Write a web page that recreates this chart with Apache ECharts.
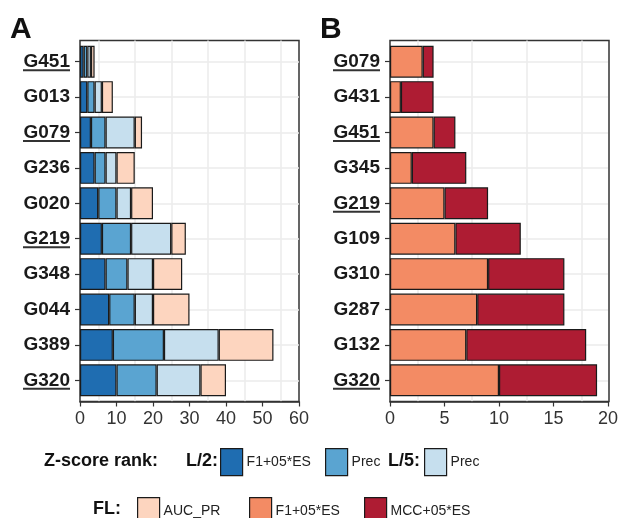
<!DOCTYPE html>
<html>
<head>
<meta charset="utf-8">
<script src="https://cdn.jsdelivr.net/npm/echarts@6/dist/echarts.min.js"></script>
<style>
html,body{margin:0;padding:0;background:#fff;}
#chart{width:621px;height:518px;}
</style>
</head>
<body>
<div id="chart"></div>
<script>
// ---------- data ----------
const categoriesA = ['G451','G013','G079','G236','G020','G219','G348','G044','G389','G320'];
const underlinedA = ['G451','G079','G219','G320'];
const l2F1 = [1,2,3,4,5,6,7,8,9,10];
const l2Prec = [1,2,4,3,5,8,6,7,14,11];
const l5Prec = [1,2,8,3,4,11,7,5,15,12];
const aucPR = [1,3,2,5,6,4,8,10,15,7];

const categoriesB = ['G079','G431','G451','G345','G219','G109','G310','G287','G132','G320'];
const underlinedB = ['G079','G451','G219','G320'];
const flF1 = [3,1,4,2,5,6,9,8,7,10];
const flMCC = [1,3,2,5,4,6,7,8,11,9];

const ticksA = {min: 0, max: 60, interval: 10};
const ticksB = {min: 0, max: 20, interval: 5};

// ---------- style ----------
const FONT = '"Liberation Sans", Arial, Helvetica, sans-serif';
const C = {
  l2F1: '#1f6db1', l2Prec: '#5aa4d1', l5Prec: '#c6dfee',
  auc: '#fdd5bf', flF1: '#f38b64', mcc: '#ae1c33'
};
const BORDER = '#1a1a1a';
const GRIDC = '#ebebeb';

const cv = document.createElement('canvas').getContext('2d');
cv.font = 'bold 19px ' + FONT;
const labW = Math.ceil(cv.measureText('G451').width);

function yLabel(under) {
  return {
    margin: 10,
    align: 'right',
    padding: [2, 0, 0, 0],
    formatter: v => under.includes(v) ? `{t|${v}}\n{u|}` : `{t|${v}}\n{n|}`,
    rich: {
      t: {fontSize: 19, fontWeight: 'bold', fontFamily: FONT, color: '#1a1a1a', lineHeight: 15},
      u: {width: labW, height: 2, lineHeight: 2, backgroundColor: '#333'},
      n: {width: labW, height: 2, lineHeight: 2}
    }
  };
}

const plotTop = 44, plotH = 354, frameTop = 40.5, frameH = 361;
const gA = {left: 80, width: 219}, gB = {left: 390, width: 219};

function barX(gridIndex, t) {
  return {
    type: 'value', gridIndex, min: t.min, max: t.max, interval: t.interval,
    offset: 3.5,
    axisLine: {show: true, lineStyle: {color: '#333', width: 1.5}},
    axisTick: {show: true, length: 5, lineStyle: {color: '#333', width: 1.2}},
    axisLabel: {fontSize: 18, fontFamily: FONT, color: '#333', margin: 9},
    splitLine: {show: false}
  };
}
function frameX(gridIndex, t) {
  return {
    type: 'value', gridIndex, min: t.min, max: t.max, interval: t.interval,
    axisLine: {show: false}, axisTick: {show: false}, axisLabel: {show: false},
    splitLine: {show: false},
    minorTick: {show: false, splitNumber: 2},
    minorSplitLine: {show: true, lineStyle: {color: GRIDC, width: 1.5}}
  };
}
function barY(gridIndex, cats, under) {
  return {
    type: 'category', gridIndex, data: cats, inverse: true,
    axisLine: {show: false},
    axisTick: {show: true, alignWithLabel: true, length: 5, lineStyle: {color: '#333', width: 1.2}},
    axisLabel: yLabel(under),
    splitLine: {show: true, alignWithLabel: true, lineStyle: {color: GRIDC, width: 1.5}}
  };
}
function frameY(gridIndex) {
  return {
    type: 'value', gridIndex, min: 0, max: 1,
    axisLine: {show: false}, axisTick: {show: false}, axisLabel: {show: false},
    splitLine: {show: false}
  };
}
function bar(name, data, color, xi, stack) {
  return {
    type: 'bar', name, data, stack, xAxisIndex: xi, yAxisIndex: xi,
    barCategoryGap: '10%',
    itemStyle: {color, borderColor: BORDER, borderWidth: 1.2},
    emphasis: {disabled: true}
  };
}
function legend(name, left, top) {
  return {
    data: [name], left, top, padding: 0, selectedMode: false,
    icon: 'rect', itemWidth: 22, itemHeight: 27,
    itemStyle: {borderColor: BORDER, borderWidth: 1.2},
    formatter: n => n.replace(/^(L\/2 |L\/5 |FL )/, ''),
    textStyle: {fontSize: 14, fontFamily: FONT, color: '#222', padding: [0, 0, 0, -1]}
  };
}
function title(text, left, cy, size) {
  return {type: 'text', left, top: cy - size / 2 - 1,
    style: {text, font: `bold ${size}px ${FONT}`, fill: '#111'}};
}

const option = {
  animation: false,
  grid: [
    {left: gA.left, width: gA.width, top: plotTop, height: plotH},
    {left: gB.left, width: gB.width, top: plotTop, height: plotH},
    {left: gA.left, width: gA.width, top: frameTop, height: frameH, show: true, borderColor: '#333', borderWidth: 1.5, backgroundColor: 'transparent', z: 0},
    {left: gB.left, width: gB.width, top: frameTop, height: frameH, show: true, borderColor: '#333', borderWidth: 1.5, backgroundColor: 'transparent', z: 0}
  ],
  xAxis: [barX(0, ticksA), barX(1, ticksB), frameX(2, ticksA), frameX(3, ticksB)],
  yAxis: [barY(0, categoriesA, underlinedA), barY(1, categoriesB, underlinedB), frameY(2), frameY(3)],
  series: [
    bar('L/2 F1+05*ES', l2F1, C.l2F1, 0, 'A'),
    bar('L/2 Prec', l2Prec, C.l2Prec, 0, 'A'),
    bar('L/5 Prec', l5Prec, C.l5Prec, 0, 'A'),
    bar('AUC_PR', aucPR, C.auc, 0, 'A'),
    bar('FL F1+05*ES', flF1, C.flF1, 1, 'B'),
    bar('MCC+05*ES', flMCC, C.mcc, 1, 'B')
  ],
  legend: [
    legend('L/2 F1+05*ES', 220, 448),
    legend('L/2 Prec', 325, 448),
    legend('L/5 Prec', 424, 448),
    legend('AUC_PR', 137, 497),
    legend('FL F1+05*ES', 249, 497),
    legend('MCC+05*ES', 364, 497)
  ],
  graphic: [
    {type: 'text', left: 10, top: 15, style: {text: 'A', font: `bold 30px ${FONT}`, fill: '#111'}},
    {type: 'text', left: 320, top: 15, style: {text: 'B', font: `bold 30px ${FONT}`, fill: '#111'}},
    title('Z-score rank:', 44, 462, 18),
    title('L/2:', 186, 462, 18),
    title('L/5:', 388, 462, 18),
    title('FL:', 93, 510, 18)
  ]
};

const chart = echarts.init(document.getElementById('chart'), null, {renderer: 'canvas'});
chart.setOption(option);
</script>
</body>
</html>
